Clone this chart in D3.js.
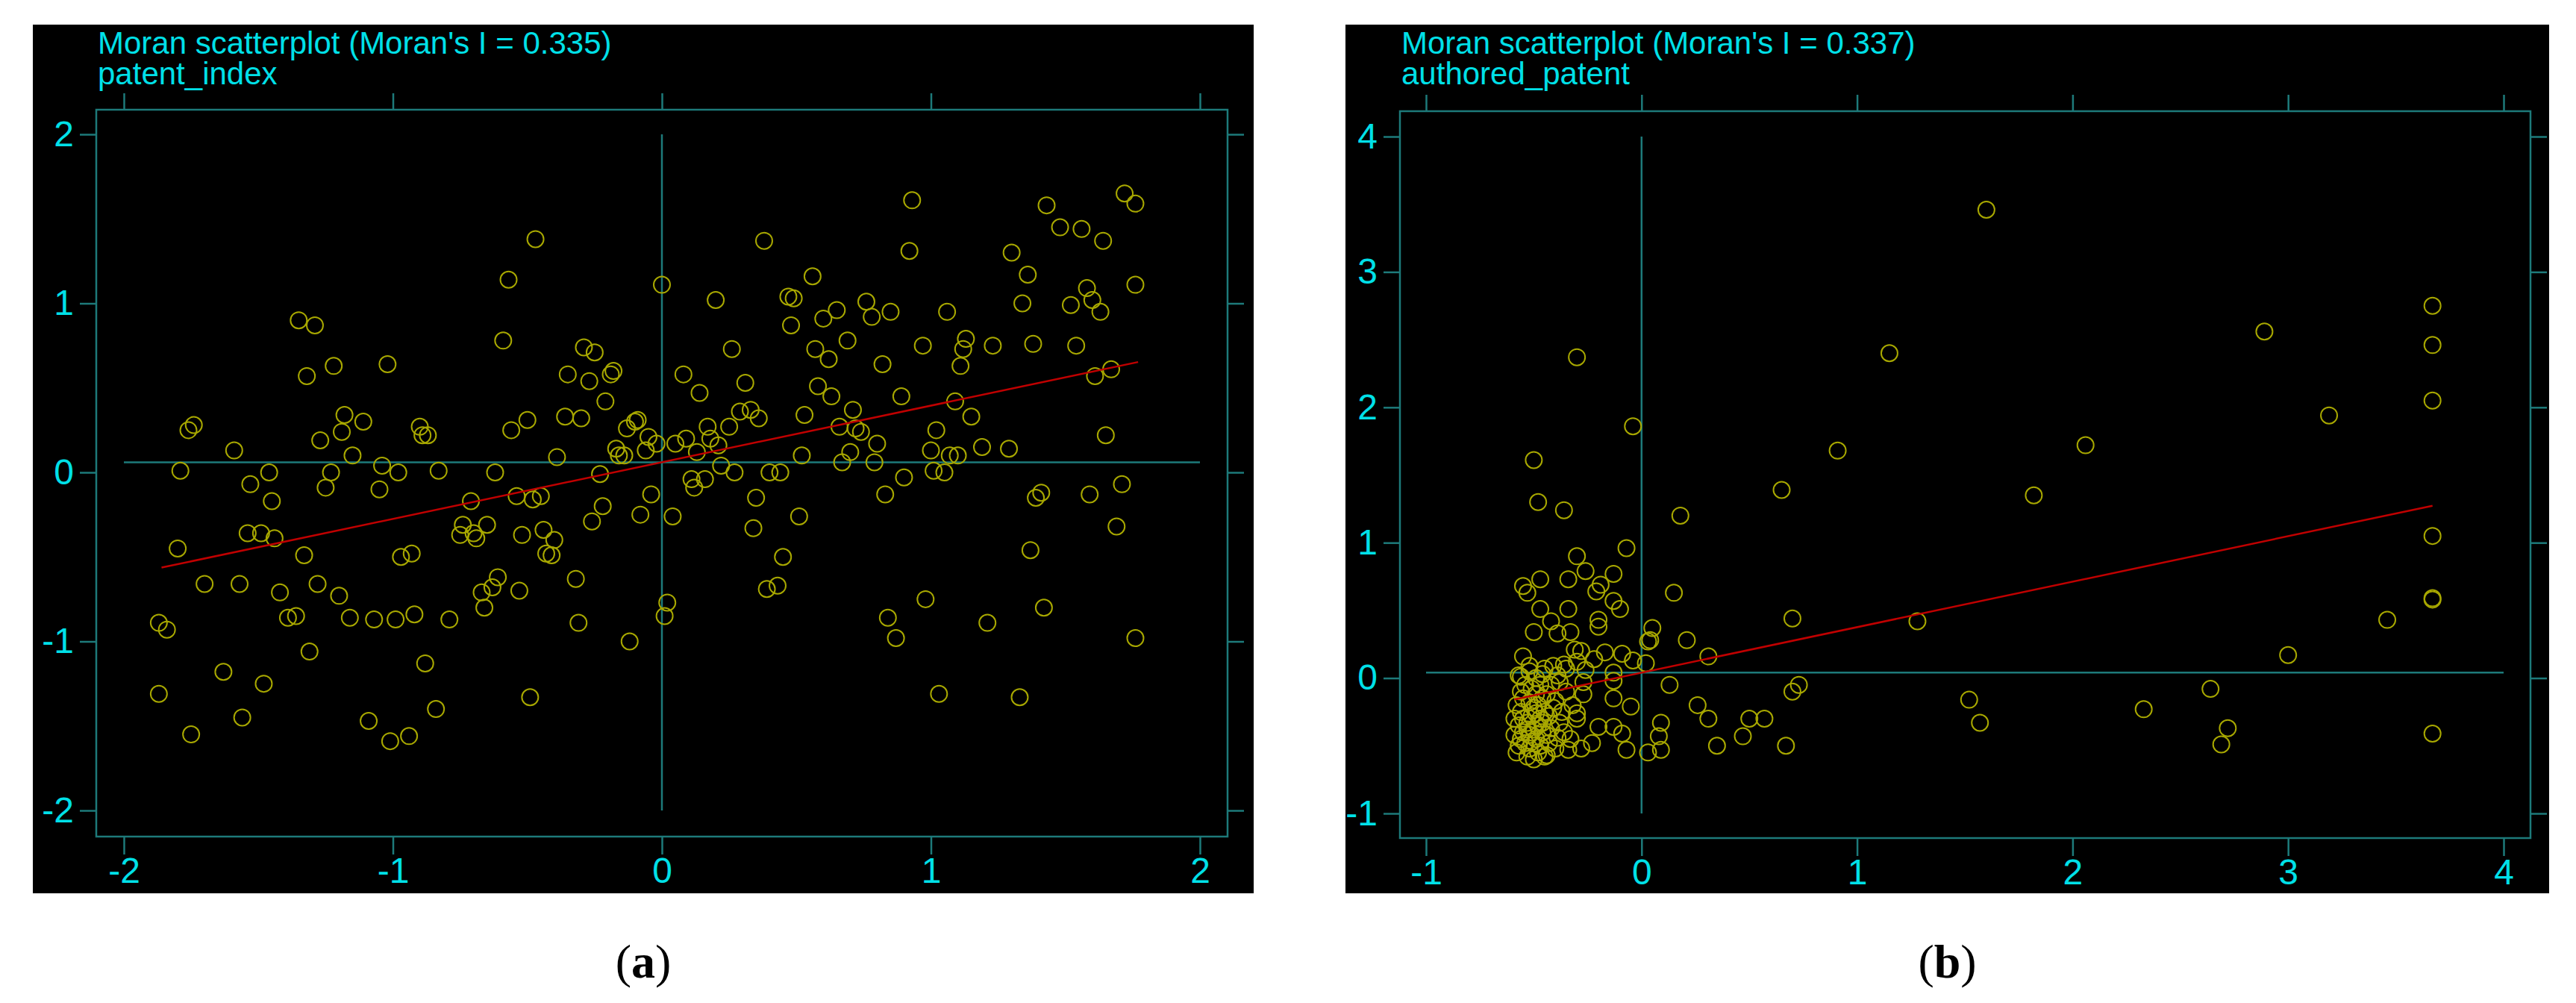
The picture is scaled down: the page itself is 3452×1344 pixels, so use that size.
<!DOCTYPE html>
<html>
<head>
<meta charset="utf-8">
<script src="https://cdn.jsdelivr.net/npm/d3@7"></script>
<style>
body { margin: 0; background: #fff; }
svg text { font-family: "Liberation Sans Narrow", "Liberation Sans", Arial, sans-serif; }
</style>
</head>
<body>
<svg id="chart" width="3452" height="1344"></svg>
<script>
// panel (a): patent_index
const aX = [-1.87,-1.84,-1.87,-1.75,-1.80,-1.79,-1.76,-1.74,-1.70,-1.63,-1.59,-1.57,-1.56,-1.54,-1.53,-1.49,-1.48,-1.46,-1.45,-1.44,-1.42,-1.39,-1.36,-1.35,-1.33,-1.32,-1.31,-1.29,-1.28,-1.27,-1.25,-1.23,-1.22,-1.20,-1.19,-1.18,-1.16,-1.15,-1.11,-1.09,-1.07,-1.05,-1.04,-1.02,-1.01,-0.99,-0.98,-0.97,-0.94,-0.93,-0.92,-0.90,-0.89,-0.88,-0.87,-0.84,-0.83,-0.79,-0.75,-0.74,-0.71,-0.70,-0.69,-0.67,-0.66,-0.65,-0.63,-0.62,-0.61,-0.59,-0.57,-0.56,-0.54,-0.53,-0.52,-0.50,-0.49,-0.48,-0.47,-0.45,-0.44,-0.43,-0.41,-0.40,-0.39,-0.36,-0.35,-0.32,-0.31,-0.30,-0.29,-0.27,-0.26,-0.25,-0.23,-0.22,-0.21,-0.19,-0.18,-0.17,-0.16,-0.14,-0.13,-0.12,-0.10,-0.09,-0.08,-0.06,-0.05,-0.04,-0.02,0.00,0.01,0.02,0.04,0.05,0.08,0.09,0.11,0.12,0.13,0.14,0.16,0.17,0.18,0.20,0.21,0.22,0.25,0.26,0.27,0.29,0.31,0.33,0.34,0.35,0.36,0.38,0.39,0.40,0.43,0.44,0.45,0.47,0.48,0.49,0.51,0.52,0.53,0.56,0.57,0.58,0.60,0.62,0.63,0.65,0.66,0.67,0.69,0.70,0.71,0.72,0.74,0.76,0.78,0.79,0.80,0.82,0.83,0.84,0.85,0.87,0.89,0.90,0.92,0.93,0.97,0.98,1.00,1.01,1.02,1.03,1.05,1.06,1.07,1.09,1.10,1.11,1.12,1.13,1.15,1.19,1.21,1.23,1.29,1.30,1.33,1.34,1.36,1.37,1.38,1.39,1.41,1.42,1.43,1.48,1.52,1.54,1.56,1.58,1.59,1.60,1.61,1.63,1.64,1.65,1.67,1.69,1.71,1.72,1.76,1.76,1.76];
const aY = [-0.89,-0.93,-1.31,-1.55,-0.45,0.01,0.25,0.28,-0.66,-1.18,0.13,-0.66,-1.45,-0.36,-0.07,-0.36,-1.25,0.00,-0.17,-0.39,-0.71,-0.86,-0.85,0.90,-0.49,0.57,-1.06,0.87,-0.66,0.19,-0.09,0.00,0.63,-0.73,0.24,0.34,-0.86,0.10,0.30,-1.47,-0.87,-0.10,0.04,0.64,-1.59,-0.87,0.00,-0.50,-1.56,-0.48,-0.84,0.27,0.22,-1.13,0.22,-1.40,0.01,-0.87,-0.37,-0.31,-0.17,-0.36,-0.39,-0.71,-0.80,-0.31,-0.68,0.00,-0.62,0.78,1.14,0.25,-0.14,-0.70,-0.37,0.31,-1.33,-0.16,1.38,-0.14,-0.34,-0.48,-0.49,-0.40,0.09,0.33,0.58,-0.63,-0.89,0.32,0.74,0.54,-0.29,0.71,-0.01,-0.20,0.42,0.58,0.60,0.14,0.10,0.10,0.26,-1.00,0.30,0.31,-0.25,0.13,0.21,-0.13,0.17,1.11,-0.85,-0.77,-0.26,0.17,0.58,0.20,-0.04,-0.09,0.12,0.47,-0.04,0.27,0.20,1.02,0.16,0.04,0.27,0.73,0.00,0.36,0.53,0.37,-0.33,-0.15,0.32,1.37,-0.69,0.00,-0.67,0.00,-0.50,1.04,0.87,1.03,-0.26,0.10,0.34,1.16,0.73,0.51,0.91,0.67,0.45,0.96,0.27,0.06,0.78,0.12,0.37,0.26,0.24,1.01,0.92,0.06,0.17,0.64,-0.13,-0.86,0.95,-0.98,0.45,-0.03,1.31,1.61,0.75,-0.75,0.13,0.01,0.25,-1.31,0.00,0.95,0.10,0.42,0.10,0.63,0.73,0.79,0.33,0.15,-0.89,0.75,0.14,1.30,-1.33,1.00,1.17,-0.46,0.76,-0.15,-0.12,-0.80,1.58,1.45,0.99,0.75,1.44,1.09,-0.13,1.02,0.57,0.95,1.37,0.22,0.61,-0.32,-0.07,1.65,1.59,1.11,-0.98];
// panel (b): authored_patent
const bX = [1.60,-0.30,1.15,2.89,3.67,3.67,3.67,3.19,2.06,0.91,-0.04,-0.50,-0.48,-0.36,0.65,1.82,0.18,3.67,-0.07,-0.30,-0.26,-0.13,-0.47,-0.34,-0.55,-0.53,-0.19,-0.21,-0.13,-0.10,0.15,3.67,3.67,-0.47,-0.34,-0.42,-0.20,-0.20,0.70,1.28,3.46,-0.50,-0.39,-0.33,0.05,0.03,0.04,0.21,-0.31,-0.28,-0.09,0.31,3.00,-0.55,-0.22,-0.17,-0.04,0.02,-0.52,-0.45,-0.41,-0.35,-0.26,-0.13,-0.56,-0.49,-0.38,-0.27,-0.13,0.13,0.73,0.70,2.64,1.52,1.57,2.33,2.72,2.69,3.67,0.67,0.35,0.47,0.50,0.57,0.31,0.26,0.09,0.08,0.09,0.03,-0.07,-0.05,-0.09,-0.13,-0.13,-0.20,-0.23,-0.28,-0.30,-0.27,
  -0.58,-0.57,-0.56,-0.55,-0.57,-0.55,-0.56,-0.58,-0.55,-0.56,-0.54,-0.53,-0.52,-0.51,-0.52,-0.50,-0.53,-0.51,-0.50,-0.52,-0.49,-0.51,-0.48,-0.47,-0.49,-0.46,-0.48,-0.47,-0.45,-0.48,-0.46,-0.47,-0.44,-0.43,-0.44,-0.42,-0.43,-0.41,-0.44,-0.40,-0.39,-0.38,-0.40,-0.37,-0.36,-0.35,-0.59,-0.59,-0.54,-0.50,-0.45,-0.53,-0.49,-0.46,-0.42,-0.39,-0.33,-0.32,-0.30,-0.34,-0.57,-0.52,-0.46,-0.36,-0.30];
const bY = [3.46,2.37,2.40,2.56,2.75,2.46,2.05,1.94,1.72,1.68,1.86,1.61,1.30,1.24,1.39,1.35,1.20,1.05,0.96,0.90,0.79,0.77,0.73,0.73,0.68,0.63,0.69,0.64,0.57,0.51,0.63,0.59,0.58,0.51,0.51,0.42,0.43,0.38,0.44,0.42,0.43,0.34,0.33,0.34,0.37,0.27,0.28,0.28,0.21,0.20,0.18,0.16,0.17,0.16,0.14,0.19,0.13,0.11,0.09,0.07,0.09,0.07,0.06,0.04,0.01,0.00,-0.03,-0.03,-0.02,-0.05,-0.05,-0.10,-0.08,-0.16,-0.33,-0.23,-0.37,-0.49,-0.41,-0.50,-0.50,-0.43,-0.30,-0.30,-0.30,-0.20,-0.33,-0.43,-0.53,-0.55,-0.53,-0.21,-0.41,-0.36,-0.15,-0.36,-0.48,-0.52,-0.26,-0.12,
  -0.55,-0.50,-0.45,-0.40,-0.35,-0.30,-0.25,-0.20,-0.15,-0.10,-0.05,-0.58,-0.52,-0.47,-0.42,-0.38,-0.33,-0.28,-0.22,-0.18,-0.12,-0.08,-0.55,-0.50,-0.45,-0.40,-0.35,-0.30,-0.25,-0.20,-0.15,-0.05,-0.57,-0.48,-0.42,-0.37,-0.28,-0.22,-0.12,-0.52,-0.44,-0.33,-0.17,-0.25,-0.40,-0.10,-0.42,-0.30,-0.48,-0.60,-0.58,-0.38,-0.26,-0.33,-0.05,0.02,-0.45,-0.20,-0.30,-0.53,0.02,0.05,0.03,0.10,0.12];

const panels = [
  { title: "Moran scatterplot (Moran's I = 0.335)", variable: "patent_index", tag: "a",
    xs: aX, ys: aY, xTicks: [-2, -1, 0, 1, 2], yTicks: [-2, -1, 0, 1, 2],
    xDomain: [-2, 2], yDomain: [-2, 2], meanY: 0.06, slope: 0.335, fitX: [-1.86, 1.77],
    bg: [44, 33, 1636, 1164], frame: [129, 147, 1645, 1121], xRange: [166, 1608], yRange: [1086, 180] },
  { title: "Moran scatterplot (Moran's I = 0.337)", variable: "authored_patent", tag: "b",
    xs: bX, ys: bY, xTicks: [-1, 0, 1, 2, 3, 4], yTicks: [-1, 0, 1, 2, 3, 4],
    xDomain: [-1, 4], yDomain: [-1, 4], meanY: 0.04, slope: 0.336, fitX: [-0.59, 3.67],
    bg: [1803, 33, 1613, 1164], frame: [1876, 149, 3391, 1123], xRange: [1911, 3355], yRange: [1090, 183] }
];

const svg = d3.select('#chart');
const teal = '#1d7a7a';
const cyan = '#00e0e8';

panels.forEach(p => {
  const g = svg.append('g');
  g.append('rect').attr('x', p.bg[0]).attr('y', p.bg[1]).attr('width', p.bg[2]).attr('height', p.bg[3]).attr('fill', '#000');

  const x = d3.scaleLinear().domain(p.xDomain).range(p.xRange);
  const y = d3.scaleLinear().domain(p.yDomain).range(p.yRange);
  const [fx0, fy0, fx1, fy1] = p.frame;

  g.append('rect').attr('x', fx0).attr('y', fy0).attr('width', fx1 - fx0).attr('height', fy1 - fy0)
    .attr('fill', 'none').attr('stroke', teal).attr('stroke-width', 2.5);

  const styleAxis = sel => {
    sel.select('.domain').remove();
    sel.selectAll('line').attr('stroke', teal).attr('stroke-width', 2.5);
    sel.selectAll('text').attr('fill', cyan).style('font-size', '48px');
  };
  const fmt = d => String(d); // plain hyphen minus as in the original
  g.append('g').attr('transform', `translate(0,${fy1})`)
    .call(d3.axisBottom(x).tickValues(p.xTicks).tickFormat(fmt).tickSize(24).tickPadding(4)).call(styleAxis);
  g.append('g').attr('transform', `translate(0,${fy0})`)
    .call(d3.axisTop(x).tickValues(p.xTicks).tickFormat('').tickSize(22)).call(styleAxis);
  g.append('g').attr('transform', `translate(${fx0},0)`)
    .call(d3.axisLeft(y).tickValues(p.yTicks).tickFormat(fmt).tickSize(22).tickPadding(8)).call(styleAxis);
  g.append('g').attr('transform', `translate(${fx1},0)`)
    .call(d3.axisRight(y).tickValues(p.yTicks).tickFormat('').tickSize(22)).call(styleAxis);

  // quadrant lines
  g.append('line').attr('x1', x(p.xDomain[0])).attr('x2', x(p.xDomain[1]))
    .attr('y1', y(p.meanY)).attr('y2', y(p.meanY)).attr('stroke', teal).attr('stroke-width', 2.5);
  g.append('line').attr('x1', x(0)).attr('x2', x(0))
    .attr('y1', y(p.yDomain[0])).attr('y2', y(p.yDomain[1])).attr('stroke', teal).attr('stroke-width', 2.5);

  // points
  g.append('g').selectAll('circle').data(p.xs.map((v, i) => [v, p.ys[i]])).join('circle')
    .attr('cx', d => x(d[0])).attr('cy', d => y(d[1])).attr('r', 11)
    .attr('fill', 'none').attr('stroke', '#a8a800').attr('stroke-width', 2);

  // regression line
  const fit = d3.line().x(d => x(d)).y(d => y(p.meanY + p.slope * d));
  g.append('path').datum(p.fitX).attr('d', fit).attr('stroke', '#c00000').attr('stroke-width', 2.5).attr('fill', 'none');

  g.append('text').attr('x', fx0 + 2).attr('y', 72).attr('fill', cyan).style('font-size', '42px').text(p.title);
  g.append('text').attr('x', fx0 + 2).attr('y', 113).attr('fill', cyan).style('font-size', '42px').text(p.variable);

  const lab = svg.append('text').attr('x', p.bg[0] + p.bg[2] / 2).attr('y', 1310).attr('text-anchor', 'middle')
    .style('font-family', '"Liberation Serif", serif').style('font-size', '64px').attr('fill', '#000');
  lab.append('tspan').text('(');
  lab.append('tspan').attr('font-weight', 'bold').text(p.tag);
  lab.append('tspan').text(')');
});
</script>
</body>
</html>
